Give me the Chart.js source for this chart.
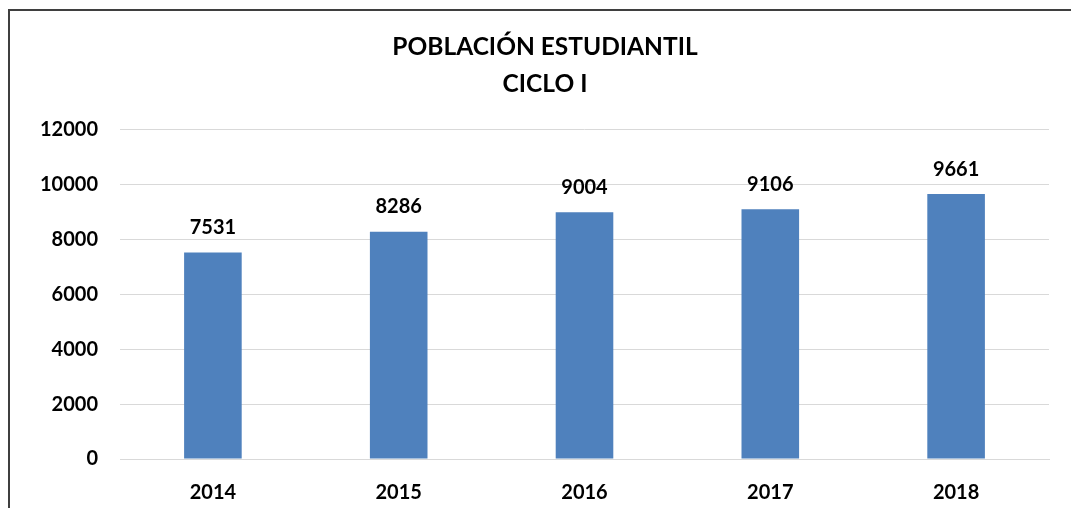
<!DOCTYPE html>
<html>
<head>
    <meta charset="utf-8">
    <title>Población Estudiantil - Ciclo I</title>
    <script src="https://cdn.jsdelivr.net/npm/chart.js"></script>
    <style>
        body { margin: 0; padding: 0; background: #ffffff; overflow: hidden; }
        #wrap { position: relative; width: 1071px; height: 508px; }
        #frame {
            position: absolute;
            left: 8px; top: 9px; right: -10px; bottom: -10px;
            border-left: 2px solid #3f3f3f;
            border-top: 2px solid #3f3f3f;
            pointer-events: none;
        }
        canvas { position: absolute; left: 0; top: 0; }
    </style>
</head>
<body>
    <div id="wrap">
        <canvas id="chart" width="1071" height="508"></canvas>
        <div id="frame"></div>
    </div>
    <script>
        const years = ['2014', '2015', '2016', '2017', '2018'];
        const students = [7531, 8286, 9004, 9106, 9661];
        const titleLines = ['POBLACIÓN ESTUDIANTIL', 'CICLO I'];

        const fontFamily = 'Lato, "Open Sans", sans-serif';

        // Value labels over each bar
        const barLabels = {
            id: 'barLabels',
            afterDatasetsDraw(chart) {
                const ctx = chart.ctx;
                const meta = chart.getDatasetMeta(0);
                ctx.save();
                ctx.font = 'bold 20px ' + fontFamily;
                ctx.fillStyle = '#000000';
                ctx.textAlign = 'center';
                ctx.textBaseline = 'middle';
                meta.data.forEach((bar, i) => {
                    ctx.fillText(String(students[i]), bar.x, bar.y - 25);
                });
                ctx.restore();
            }
        };

        new Chart(document.getElementById('chart'), {
            type: 'bar',
            data: {
                labels: years,
                datasets: [{
                    data: students,
                    backgroundColor: '#4f81bd',
                    borderWidth: 0,
                    barPercentage: 0.31,
                    categoryPercentage: 1
                }]
            },
            options: {
                responsive: false,
                animation: false,
                layout: { padding: { left: 41, right: 22, top: 0, bottom: 0 } },
                plugins: {
                    legend: { display: false },
                    tooltip: { enabled: false },
                    title: {
                        display: true,
                        text: titleLines,
                        color: '#000000',
                        font: { family: fontFamily, size: 24.5, weight: 'bold', lineHeight: 1.51 },
                        padding: { top: 29, bottom: 27 }
                    }
                },
                scales: {
                    x: {
                        afterFit(scale) { scale.height = 49; },
                        grid: { display: false },
                        border: { display: true, color: '#d9d9d9', width: 1 },
                        ticks: {
                            color: '#000000',
                            padding: 14,
                            font: { family: fontFamily, size: 20, weight: 'bold' }
                        }
                    },
                    y: {
                        min: 0,
                        max: 12000,
                        afterFit(scale) { scale.width = 79; },
                        grid: { color: '#d9d9d9', lineWidth: 1, drawTicks: false },
                        border: { display: false },
                        ticks: {
                            stepSize: 2000,
                            color: '#000000',
                            padding: 22,
                            callback: (v) => String(v),
                            font: { family: fontFamily, size: 20, weight: 'bold' }
                        }
                    }
                }
            },
            plugins: [barLabels]
        });
    </script>
</body>
</html>
